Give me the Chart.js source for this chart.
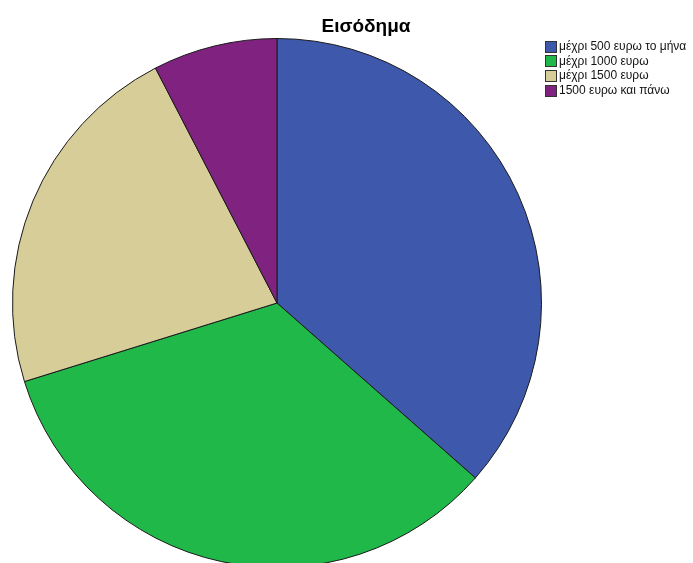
<!DOCTYPE html>
<html>
<head>
<meta charset="utf-8">
<script src="https://cdn.jsdelivr.net/npm/chart.js@4/dist/chart.umd.min.js"></script>
<style>
html,body{margin:0;padding:0;background:#fff;overflow:hidden;width:693px;height:563px;}
canvas{display:block;}
</style>
</head>
<body>
<canvas id="c" width="693" height="606"></canvas>
<script>
const chartTitle = "Εισόδημα";
const categories = ["μέχρι 500 ευρω το μήνα", "μέχρι 1000 ευρω", "μέχρι 1500 ευρω", "1500 ευρω και πάνω"];
const values = [36.5, 33.7, 22.2, 7.6];
const colors = ["#3e58ac", "#21b84a", "#d6cd99", "#7f2280"];

const overlay = {
  id: 'overlay',
  afterDraw(chart) {
    const ctx = chart.ctx;
    ctx.save();
    ctx.fillStyle = '#000';
    ctx.font = 'bold 19px "Liberation Sans", Arial, sans-serif';
    ctx.textAlign = 'center';
    ctx.textBaseline = 'alphabetic';
    ctx.fillText(chartTitle, 366, 32);
    ctx.font = '12px "Liberation Sans", Arial, sans-serif';
    ctx.textAlign = 'left';
    ctx.textBaseline = 'middle';
    const labels = chart.data.labels;
    const bg = chart.data.datasets[0].backgroundColor;
    labels.forEach((l, i) => {
      const y = 46.5 + i * 14.7;
      ctx.fillStyle = bg[i];
      ctx.fillRect(545.5, Math.round(y) - 5.5, 11, 11);
      ctx.strokeStyle = '#333';
      ctx.lineWidth = 1;
      ctx.strokeRect(545.5, Math.round(y) - 5.5, 11, 11);
      ctx.fillStyle = '#111';
      ctx.fillText(l, 559, y);
    });
    ctx.restore();
  }
};

new Chart(document.getElementById('c'), {
  type: 'pie',
  data: {
    labels: categories,
    datasets: [{
      data: values,
      backgroundColor: colors,
      borderColor: '#1a1a1a',
      borderWidth: 1
    }]
  },
  options: {
    responsive: false,
    animation: false,
    layout: { padding: { left: 12, right: 151, top: 38, bottom: 38 } },
    plugins: { legend: { display: false }, title: { display: false }, tooltip: { enabled: false } }
  },
  plugins: [overlay]
});
</script>
</body>
</html>
